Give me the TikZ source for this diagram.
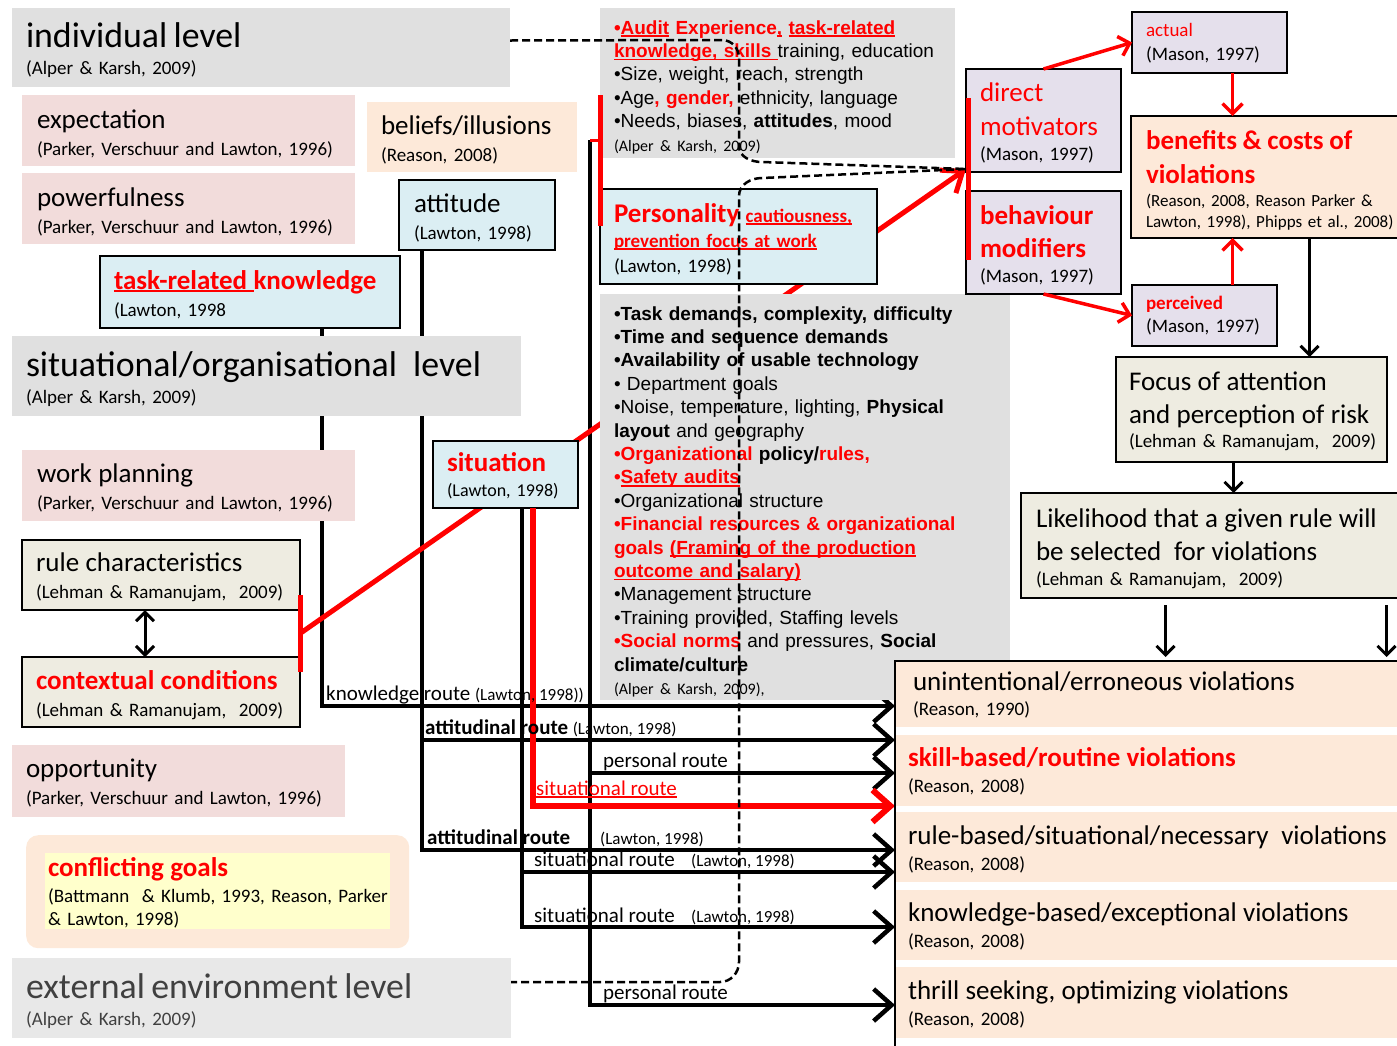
\documentclass[tikz,border=0pt]{standalone}
\usepackage{fontspec}
\setmainfont{Carlito}
\newfontfamily\arialf{Liberation Sans}
\usetikzlibrary{arrows.meta,backgrounds,calc}

\newcommand{\ttl}[1]{\leavevmode{\fontsize{27}{27}\selectfont #1}}
\newcommand{\bigttl}[1]{\leavevmode{\fontsize{35.8}{36}\selectfont #1}}
\newcommand{\undl}[1]{\leavevmode\setbox0=\hbox{#1}\rlap{\rule[-3pt]{\wd0}{1.6pt}}\box0\relax}

\begin{document}
\begin{tikzpicture}[x=1pt, y=-1pt,
    box/.style={anchor=north west, inner xsep=14pt, inner ysep=0pt, outer sep=0pt,
        align=left, font=\fontsize{19}{27}\selectfont},
    lvlbox/.style={box, fill=lvl_gray},
    pinkbox/.style={box, fill=tab_pink},
    peachbox/.style={box, fill=tab_peach},
    peachframe/.style={box, fill=tab_peach, draw=black, line width=2.5pt},
    bluebox/.style={box, fill=tab_blue, draw=black, line width=2.5pt},
    beigebox/.style={box, fill=tab_beige, draw=black, line width=2.5pt},
    lavbox/.style={box, fill=tab_lav, draw=black, line width=2.5pt},
    bullets/.style={box, fill=lvl_gray, font=\arialf\fontsize{19}{23.4}\selectfont},
    violbox/.style={box, fill=tab_peach, inner xsep=13pt, font=\fontsize{19}{26}\selectfont},
    route/.style={line width=4.5pt, -{Straight Barb[length=18pt,width=32pt]}},
    redroute/.style={draw=red, line width=6pt, -{Straight Barb[length=18pt,width=32pt]}},
    redline/.style={draw=red, line width=5pt},
    redarrow/.style={draw=red, line width=3.5pt, -{Straight Barb[length=10pt,width=20pt]}},
    blkarrow/.style={line width=3pt, -{Straight Barb[length=9pt,width=18pt]}},
    dashline/.style={line width=2.5pt, dash pattern=on 8pt off 4pt},
    rlabel/.style={anchor=base west, inner sep=0pt, font=\fontsize{21}{21}\selectfont},
    rcite/.style={rlabel, font=\fontsize{17}{17}\selectfont}
]
    \definecolor{lvl_gray}{HTML}{E0E0E0}
    \definecolor{ext_gray}{HTML}{E8E8E8}
    \definecolor{ext_text}{HTML}{404040}
    \definecolor{tab_pink}{HTML}{F2DCDB}
    \definecolor{tab_peach}{HTML}{FDE9D9}
    \definecolor{tab_blue}{HTML}{DBEEF3}
    \definecolor{tab_lav}{HTML}{E5E0EC}
    \definecolor{tab_beige}{HTML}{EEECE1}
    \definecolor{tab_yellow}{HTML}{FFFFCC}
    \useasboundingbox (0,0) rectangle (1397,1045);
    %\draw[help lines,step=50] (0,0) grid (1397,1045);

    % left column
    \node[lvlbox, text width=470pt, text height=39pt, text depth=40pt] (indiv) at (12,8)
        {\bigttl{individual level}\\(Alper \& Karsh, 2009)};
    \node[pinkbox, inner xsep=15pt, text width=303pt, text height=33pt, text depth=38pt] (expect) at (22,95)
        {\ttl{expectation}\\(Parker, Verschuur and Lawton, 1996)};
    \node[pinkbox, inner xsep=15pt, text width=303pt, text height=33pt, text depth=38pt] (power) at (22,173)
        {\ttl{powerfulness}\\(Parker, Verschuur and Lawton, 1996)};
    \node[peachbox, text width=182pt, text height=32pt, text depth=38pt] (belief) at (367,102)
        {\ttl{beliefs/illusions}\\(Reason, 2008)};
    \node[bluebox, inner xsep=15pt, text width=126pt, text height=32pt, text depth=38pt] (attitude) at (399,180)
        {\ttl{attitude}\\(Lawton, 1998)};
    \node[bluebox, text width=272pt, text height=33pt, text depth=39pt] (taskknow) at (100,256)
        {\ttl{\bfseries\color{red}\undl{task-related }knowledge}\\(Lawton, 1998};
    \node[lvlbox, text width=481pt, text height=40pt, text depth=40pt] (sitlevel) at (12,336)
        {\bigttl{situational/organisational\hspace{10pt} level}\\(Alper \& Karsh, 2009)};
    \node[pinkbox, inner xsep=15pt, text width=303pt, text height=32pt, text depth=39pt] (workplan) at (22,450)
        {\ttl{work planning}\\(Parker, Verschuur and Lawton, 1996)};
    \node[beigebox, text width=250pt, text height=31pt, text depth=39pt] (rulechar) at (22,540)
        {\ttl{rule characteristics}\\\mbox{(Lehman \& Ramanujam,\ \ 2009)}};
    \node[beigebox, text width=250pt, text height=32pt, text depth=38pt] (context) at (22,657)
        {\ttl{\bfseries\color{red}contextual conditions}\\\mbox{(Lehman \& Ramanujam,\ \ 2009)}};
    \node[pinkbox, text width=305pt, text height=32pt, text depth=40pt] (opport) at (12,745)
        {\ttl{opportunity}\\(Parker, Verschuur and Lawton, 1996)};
    \node[fill=tab_peach, rounded corners=12pt, anchor=north west, inner sep=0pt,
        minimum width=383pt, minimum height=113pt] (conflictbg) at (26,835) {};
    \node[box, fill=tab_yellow, inner xsep=3pt, text width=339pt, text height=23pt, text depth=53pt,
        font=\fontsize{19}{23}\selectfont] (conflict) at (45,853)
        {\ttl{\bfseries\color{red}conflicting goals}\\[3pt]\mbox{(Battmann\ \ \& Klumb, 1993, Reason, Parker}\\\& Lawton, 1998)};
    \node[box, fill=ext_gray, text=ext_text, text width=471pt, text height=40pt, text depth=40pt] (extlevel) at (12,958)
        {\bigttl{external environment level}\\(Alper \& Karsh, 2009)};
    \node[bluebox, text width=117pt, text height=30pt, text depth=37pt, font=\fontsize{18}{25}\selectfont] (situation) at (433,441)
        {\ttl{\bfseries\color{red}situation}\\(Lawton, 1998)};

    % middle column
    \node[bullets, text width=327pt, text height=26pt, text depth=124pt] (indbullets) at (600,8) {%
        \leavevmode{\color{red}\bfseries •\undl{Audit} Experience\undl{,} \undl{task-related}}\\
        \leavevmode{\color{red}\bfseries \undl{knowledge, skills }}training, education\\
        •Size, weight, reach, strength\\
        •Age{\color{red}\bfseries, gender,} ethnicity, language\\
        •Needs, biases, \textbf{attitudes}, mood\\
        \leavevmode{\rmfamily\fontsize{16}{16}\selectfont (Alper \& Karsh, 2009)}};
    \node[bluebox, text width=249pt, text height=33pt, text depth=62pt, font=\fontsize{19}{25}\selectfont] (personality) at (600,189)
        {\ttl{\bfseries\color{red}Personality} {\bfseries\color{red}\undl{cautiousness,}}\\
        \leavevmode{\bfseries\color{red}\undl{prevention focus at work}}\\(Lawton, 1998)};
    \node[bullets, text width=382pt, text height=26pt, text depth=380pt] (sitbullets) at (600,294) {%
        \textbf{•Task demands, complexity, difficulty}\\
        \textbf{•Time and sequence demands}\\
        \textbf{•Availability of usable technology}\\
        • Department goals\\
        •Noise, temperature, lighting, \textbf{Physical}\\
        \textbf{layout} and geography\\
        \leavevmode{\color{red}\bfseries •Organizational} \textbf{policy/}{\color{red}\bfseries rules,}\\
        \leavevmode{\color{red}\bfseries •\undl{Safety audits}}\\
        •Organizational structure\\
        \leavevmode{\color{red}\bfseries •Financial resources \& organizational}\\
        \leavevmode{\color{red}\bfseries goals \undl{(Framing of the production}}\\
        \leavevmode{\color{red}\bfseries \undl{outcome and salary)}}\\
        •Management structure\\
        •Training provided, Staffing levels\\
        \leavevmode{\color{red}\bfseries •Social norms} and pressures, \textbf{Social}\\
        \textbf{climate/culture}\\
        \leavevmode{\rmfamily\fontsize{16}{16}\selectfont (Alper \& Karsh, 2009),}};

    % right column
    \node[lavbox, text width=127pt, text height=24pt, text depth=37pt, font=\fontsize{19}{24}\selectfont] (actual) at (1132,12)
        {\leavevmode{\color{red}actual}\\(Mason, 1997)};
    \node[lavbox, text width=127pt, text height=32pt, text depth=71pt, font=\fontsize{19}{25}\selectfont] (dirmot) at (966,69)
        {\ttl{\color{red}direct}\\[9pt]\ttl{\color{red}motivators}\\(Mason, 1997)};
    \node[lavbox, text width=127pt, text height=33pt, text depth=70pt, font=\fontsize{19}{25}\selectfont] (behmod) at (966,191)
        {\ttl{\bfseries\color{red}behaviour}\\[8pt]\ttl{\bfseries\color{red}modifiers}\\(Mason, 1997)};
    \node[peachframe, inner xsep=15pt, text width=245pt, text height=33pt, text depth=89pt, font=\fontsize{17}{21}\selectfont] (benefit) at (1131,116)
        {\ttl{\bfseries\color{red}benefits \& costs of}\\[13pt]\ttl{\bfseries\color{red}violations}\\[2pt]\mbox{(Reason, 2008, Reason Parker \&}\\\mbox{Lawton, 1998), Phipps et al., 2008)}};
    \node[lavbox, text width=117pt, text height=24pt, text depth=37pt, font=\fontsize{19}{23}\selectfont] (perceived) at (1132,285)
        {\leavevmode{\bfseries\color{red}perceived}\\(Mason, 1997)};
    \node[beigebox, inner xsep=13pt, text width=245pt, text height=33pt, text depth=72pt, font=\fontsize{19}{24}\selectfont] (focus) at (1116,357)
        {\ttl{Focus of attention}\\[9pt]\ttl{and perception of risk}\\\mbox{(Lehman \& Ramanujam,\ \ 2009)}};
    \node[beigebox, inner xsep=15pt, text width=355pt, text height=34pt, text depth=71pt, font=\fontsize{19}{25}\selectfont] (likely) at (1021,493)
        {\ttl{Likelihood that a given rule will}\\[8pt]\ttl{be selected\ \ for violations}\\\mbox{(Lehman \& Ramanujam,\ \ 2009)}};

    % violations
    \node[violbox, inner xsep=18pt, text width=474pt, text height=29pt, text depth=37pt, font=\fontsize{19}{25}\selectfont] (v1) at (895,661)
        {\ttl{unintentional/erroneous violations}\\(Reason, 1990)};
    \node[violbox, text width=484pt, text height=31pt, text depth=40pt] (v2) at (895,735)
        {\ttl{\bfseries\color{red}skill-based/routine violations}\\(Reason, 2008)};
    \node[violbox, text width=484pt, text height=32pt, text depth=38pt] (v3) at (895,812)
        {\ttl{rule-based/situational/necessary\ \ violations}\\(Reason, 2008)};
    \node[violbox, text width=484pt, text height=31pt, text depth=39pt] (v4) at (895,890)
        {\ttl{knowledge-based/exceptional violations}\\(Reason, 2008)};
    \node[violbox, text width=484pt, text height=32pt, text depth=39pt] (v5) at (895,967)
        {\ttl{thrill seeking, optimizing violations}\\(Reason, 2008)};

    \coordinate (perstop) at (590,140);

    % routes, behind the boxes
    \begin{scope}[on background layer]
        \fill[white] (0,0) rectangle (1397,1045);
        \draw[route] ([xshift=-78pt]taskknow.south east) |- ([yshift=-45pt]v1.north west);
        \draw[route] ([xshift=23pt]attitude.south west) |- ([yshift=-5pt]v2.north west);
        \draw[route] ([xshift=23pt]attitude.south west) |- ([yshift=-38pt]v3.north west);
        \draw[route] ([xshift=89pt]situation.south west) |- ([yshift=-60pt]v3.north west);
        \draw[route] ([xshift=89pt]situation.south west) |- ([yshift=-37pt]v4.north west);
        \draw[route] (perstop) |- ([yshift=-38pt]v2.north west);
        \draw[route] (perstop) |- ([yshift=-38pt]v5.north west);
        \draw[redline, -{Straight Barb[length=18pt,width=28pt]}]
            ($(rulechar.south east)!.5!(context.north east)$) -- ([yshift=3pt]dirmot.south west);
    \end{scope}

    \draw[redline] ([yshift=-87pt]indbullets.north west) -- ([yshift=-37pt]personality.north west);
    \draw[red, line width=3pt] (perstop) -- (perstop -| indbullets.west);
    \draw[redline] ([yshift=15pt]rulechar.south east) -- ([yshift=-15pt]context.north east);
    \draw[redline] ([xshift=2pt,yshift=-29pt]dirmot.north west) -- ([xshift=2pt,yshift=-69pt]behmod.north west);
    \draw[redroute] ([xshift=100pt]situation.south west) |- (v2.south west);

    \node[rlabel] (knlab) at (326,700) {knowledge route {\fontsize{17}{17}\selectfont (Lawton, 1998))}};
    \node[rlabel] (attlab1) at (425,734) {\textbf{attitudinal route} {\fontsize{17}{17}\selectfont (Lawton, 1998)}};
    \node[rlabel] (perslab1) at (603,767) {personal route};
    \node[rlabel, text=red] (sitlabred) at (536,795) {\undl{situational route}};
    \node[rlabel] (attlab2) at (427,844) {\textbf{attitudinal route}};
    \node[rcite] (attcite2) at (600,844) {(Lawton, 1998)};
    \node[rlabel] (sitlab1) at (534,866) {situational route};
    \node[rcite] (sitcite1) at (691,866) {(Lawton, 1998)};
    \node[rlabel] (sitlab2) at (534,922) {situational route};
    \node[rcite] (sitcite2) at (691,922) {(Lawton, 1998)};
    \node[rlabel] (perslab2) at (603,999) {personal route};

    % right side arrows
    \coordinate (act1) at ([xshift=23pt]actual.south);
    \coordinate (per1) at ([xshift=28pt]perceived.north);
    \coordinate (ben1) at ([xshift=41pt]benefit.south);
    \coordinate (foc1) at ([xshift=-18pt]focus.south);
    \coordinate (lik1) at ([xshift=-48pt,yshift=-7pt]likely.south);
    \coordinate (lik2) at ([xshift=173pt,yshift=-7pt]likely.south);
    \coordinate (rc1) at ([xshift=-16pt]rulechar.south);
    \draw[redarrow] (dirmot.north) -- (actual.west);
    \draw[redarrow] (behmod.south) -- (perceived.west);
    \draw[redarrow] (act1) -- (act1 |- benefit.north);
    \draw[redarrow] (per1) -- (per1 |- benefit.south);
    \draw[blkarrow] (ben1) -- (ben1 |- focus.north);
    \draw[blkarrow] (foc1) -- (foc1 |- likely.north);
    \draw[blkarrow, shorten >=4pt] (lik1) -- (lik1 |- v1.north);
    \draw[blkarrow, shorten >=4pt] (lik2) -- (lik2 |- v1.north);
    \draw[blkarrow, {Straight Barb[length=9pt,width=18pt]}-{Straight Barb[length=9pt,width=18pt]}]
        (rc1) -- (rc1 |- context.north);

    % dashed links to the motivators
    \draw[dashline] ([yshift=7pt]indiv.east) -- (722,40) to[out=0,in=90] (739,58) -- (739,146)
        to[out=-90,in=180] (762,162) -- ([yshift=3pt]dirmot.south west);
    \draw[dashline] ([yshift=3pt]dirmot.south west) -- (762,178) to[out=180,in=90] (739,196)
        -- (739,962) to[out=-90,in=0] (720,982) -- ([yshift=16pt]extlevel.east);

    \draw[line width=2.5pt] ([yshift=-10pt]v5.south west) -- (v1.north west) -- (v1.north east);
\end{tikzpicture}
\end{document}
